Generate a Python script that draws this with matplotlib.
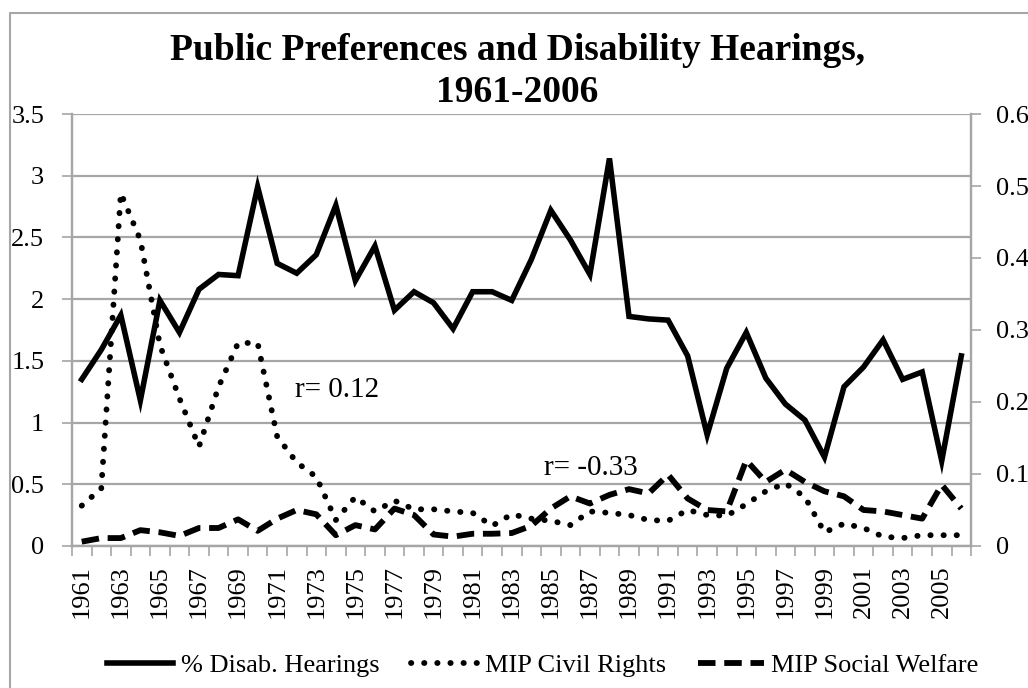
import numpy as np
import matplotlib
matplotlib.use('Agg')
import matplotlib.pyplot as plt
from matplotlib.lines import Line2D

# --- data ---------------------------------------------------------------
years = list(range(1961, 2007))

# % disability hearings (left axis)
hearings = [1.35, 1.59, 1.87, 1.18, 1.99, 1.73, 2.08, 2.20, 2.19, 2.91,
            2.29, 2.21, 2.36, 2.76, 2.15, 2.43, 1.91, 2.06, 1.97, 1.76,
            2.06, 2.06, 1.99, 2.32, 2.72, 2.48, 2.20, 3.14, 1.86, 1.84,
            1.83, 1.54, 0.90, 1.44, 1.73, 1.36, 1.15, 1.02, 0.72, 1.29,
            1.45, 1.67, 1.35, 1.41, 0.69, 1.54]

# MIP civil rights (right axis)
civil_rights = [0.056, 0.080, 0.490, 0.425, 0.279, 0.205, 0.138, 0.221, 0.282, 0.282,
                0.152, 0.116, 0.096, 0.036, 0.068, 0.048, 0.063, 0.051, 0.051, 0.048,
                0.046, 0.028, 0.044, 0.038, 0.035, 0.029, 0.048, 0.046, 0.043, 0.036,
                0.035, 0.050, 0.043, 0.042, 0.058, 0.076, 0.087, 0.068, 0.019, 0.031,
                0.025, 0.013, 0.011, 0.015, 0.015, 0.015]

# MIP social welfare (right axis)
social_welfare = [0.006, 0.011, 0.011, 0.022, 0.019, 0.014, 0.025, 0.025, 0.037, 0.021,
                  0.038, 0.050, 0.044, 0.015, 0.029, 0.023, 0.052, 0.043, 0.016, 0.013,
                  0.017, 0.017, 0.018, 0.028, 0.052, 0.069, 0.059, 0.071, 0.079, 0.073,
                  0.099, 0.066, 0.050, 0.048, 0.119, 0.089, 0.106, 0.089, 0.076, 0.069,
                  0.050, 0.048, 0.043, 0.038, 0.085, 0.052]

left_ticks = [0, 0.5, 1, 1.5, 2, 2.5, 3, 3.5]
right_ticks = [0, 0.1, 0.2, 0.3, 0.4, 0.5, 0.6]

# --- plot ----------------------------------------------------------------
plt.rcParams['font.family'] = ['Liberation Serif', 'DejaVu Serif']
grey = '#a6a6a6'
fs = 19

fig = plt.figure(figsize=(10.28, 6.88), dpi=100)
ax = fig.add_axes([0.070, 0.2064, 0.8746, 0.6279])
ax2 = ax.twinx()

x = np.arange(len(years))

l1, = ax.plot(x, hearings, color='black', lw=4.0, solid_joinstyle='miter',
              label='% Disab. Hearings')
l2, = ax2.plot(x, civil_rights, color='black', lw=4.2, linestyle=(0, (0.05, 2.2)),
               dash_capstyle='round', label='MIP Civil Rights')
l3, = ax2.plot(x, social_welfare, color='black', lw=4.2, linestyle=(0, (3.0, 1.5)),
               label='MIP Social Welfare')

ax.set_xlim(-0.5, len(years) - 0.5)
ax.set_ylim(0, 3.5)
ax2.set_ylim(0, 0.6)

ax.set_yticks(left_ticks)
ax.set_yticklabels(['%g' % t for t in left_ticks], fontsize=fs)
ax2.set_yticks(right_ticks)
ax2.set_yticklabels(['%g' % t for t in right_ticks], fontsize=fs)

# tick marks between categories, labels every other year
ax.set_xticks(np.arange(-0.5, len(years), 1.0))
ax.set_xticklabels([])
ax.set_xticks(x[::2], minor=True)
ax.set_xticklabels([str(y) for y in years[::2]], minor=True, rotation=90, fontsize=fs)
ax.tick_params(axis='x', which='major', length=7, color=grey, width=1.2)
ax.tick_params(axis='x', which='minor', length=0, pad=14)
ax.tick_params(axis='y', length=7, color=grey, width=1.2, pad=13)
ax2.tick_params(axis='y', length=7, color=grey, width=1.2, pad=11)

ax.yaxis.grid(True, color=grey, lw=1.6)
ax.set_axisbelow(True)

for a in (ax, ax2):
    a.spines['top'].set_visible(False)
    for s in ('left', 'right', 'bottom'):
        a.spines[s].set_color(grey)
        a.spines[s].set_linewidth(1.6)

ax.text(10.9, 1.265, 'r= 0.12', fontsize=21, va='center', ha='left')
ax.text(23.66, 0.63, 'r= -0.33', fontsize=21, va='center', ha='left')

# two-line bold title
fig.text(0.503, 1 - 60 / 688, 'Public Preferences and Disability Hearings,',
         ha='center', va='baseline', fontsize=27, fontweight='bold')
fig.text(0.503, 1 - 102 / 688, '1961-2006',
         ha='center', va='baseline', fontsize=27, fontweight='bold')

fig.legend(handles=[l1, l2, l3], loc='center', bbox_to_anchor=(0.528, 0.033),
           ncol=3, frameon=False, fontsize=fs, handlelength=2.5,
           columnspacing=1.2, handletextpad=0.3)

# chart border (only left and top edges are inside the picture)
fig.add_artist(Line2D([10 / 1028, 10 / 1028, 1.0], [0.0, 1 - 13 / 688, 1 - 13 / 688],
                      transform=fig.transFigure, color=grey, lw=1.5))

plt.savefig('out.png', dpi=100)
plt.close()
